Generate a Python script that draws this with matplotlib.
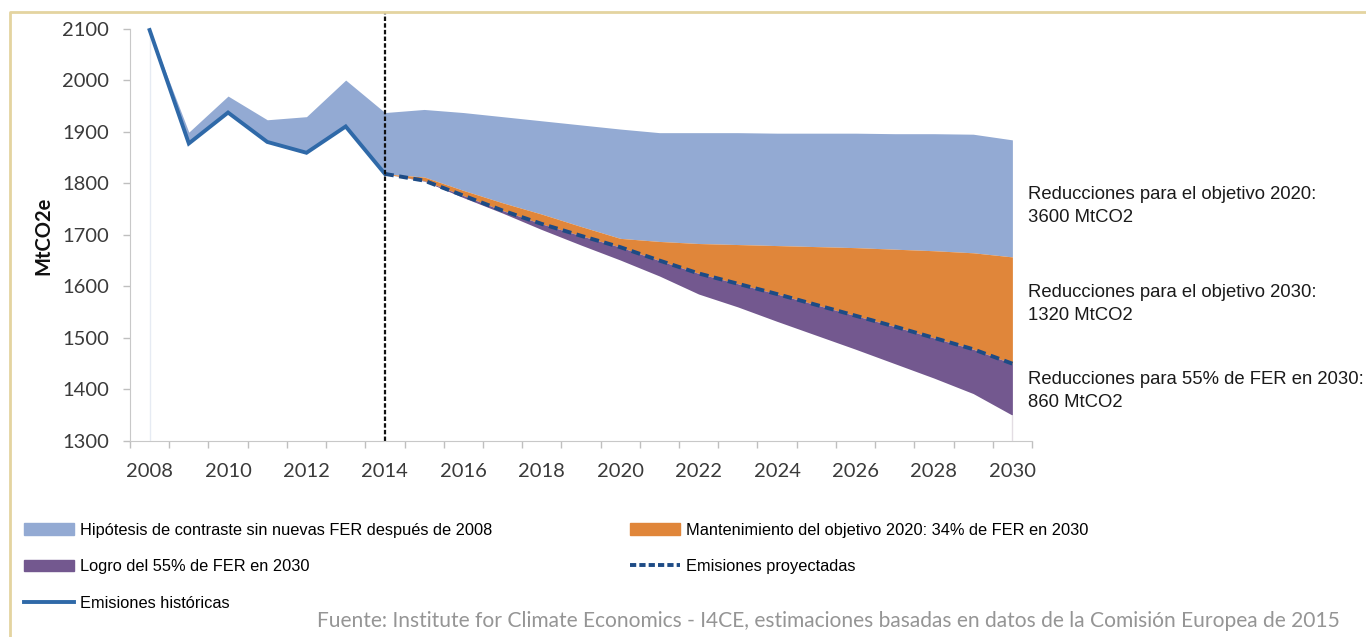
import numpy as np
import matplotlib.pyplot as plt
from matplotlib.lines import Line2D
from matplotlib.patches import Patch

# historic period
years_hist = np.arange(2008, 2015)
emis_hist = [2097, 1877, 1937, 1880, 1859, 1910, 1818]
base_hist = [2097, 1899, 1969, 1923, 1929, 2000, 1937]

# projections
years_proj = np.arange(2014, 2031)
base_proj = [1937, 1943, 1937, 1929, 1921, 1913, 1905, 1898, 1898, 1898,
             1897, 1897, 1897, 1896, 1896, 1895, 1884]
target_2020 = [1818, 1812, 1786, 1762, 1740, 1716, 1693, 1687, 1683, 1681,
               1679, 1677, 1675, 1672, 1669, 1665, 1657]
emis_proj = [1818, 1805, 1776, 1747, 1721, 1698, 1676, 1650, 1625, 1605,
             1585, 1564, 1543, 1522, 1500, 1478, 1450]
fer_55 = [1818, 1804, 1772, 1742, 1710, 1680, 1651, 1620, 1585, 1560,
          1532, 1505, 1478, 1450, 1422, 1392, 1350]

labels = ['Hipótesis de contraste sin nuevas FER después de 2008',
          'Logro del 55% de FER en 2030',
          'Emisiones históricas',
          'Mantenimiento del objetivo 2020: 34% de FER en 2030',
          'Emisiones proyectadas']
notes = ['Reducciones para el objetivo 2020:\n3600 MtCO2',
         'Reducciones para el objetivo 2030:\n1320 MtCO2',
         'Reducciones para 55% de FER en 2030:\n860 MtCO2']
note_y = [1755, 1565, 1397]
source = ('Fuente: Institute for Climate Economics - I4CE, estimaciones basadas '
          'en datos de la Comisión Europea de 2015')

c_blue = '#93aad3'
c_orange = '#e0863a'
c_purple = '#73588f'
c_hist = '#2f69a8'
c_proj = '#1d4b85'

sans = ['Liberation Sans', 'DejaVu Sans']

fig = plt.figure(figsize=(13.66, 6.37), dpi=100)
ax = fig.add_axes([130 / 1366, 1 - 441 / 637, 902 / 1366, 429 / 637])

years_all = np.arange(2008, 2031)
upper = list(base_hist) + base_proj[1:]
lower = list(emis_hist) + target_2020[1:]
ax.fill_between(years_all, lower, upper, color=c_blue, lw=0)
ax.fill_between(years_proj, emis_proj, target_2020, color=c_orange, lw=0)
ax.fill_between(years_proj, fer_55, emis_proj, color=c_purple, lw=0)
ax.vlines(2008, 1300, emis_hist[0], color='#e6ebf3', lw=1)
ax.vlines(2030, 1300, fer_55[-1], color='#e3dde3', lw=1)

ax.plot(years_hist, emis_hist, color=c_hist, lw=2.8, solid_joinstyle='miter')
ax.plot(years_proj, emis_proj, color=c_proj, lw=2.8, linestyle=(0, (2.3, 1.4)))
ax.axvline(2014, color='#111111', lw=1.6, linestyle=(0, (2, 1)))

ax.set_xlim(2007.5, 2030.5)
ax.set_ylim(1300, 2132)
ax.set_xticks(np.arange(2008, 2031, 2))
ax.set_xticks(np.arange(2007.5, 2031, 1), minor=True)
ax.set_yticks(np.arange(1300, 2101, 100))
ax.tick_params(axis='x', which='major', length=0, pad=16, labelsize=14.5, labelcolor='#3a3a3a')
ax.tick_params(axis='x', which='minor', length=5, width=1, color='#bfbfbf')
ax.tick_params(axis='y', length=5, width=1, color='#bfbfbf', pad=10, labelsize=14.5, labelcolor='#3a3a3a')
for lab in ax.get_xticklabels() + ax.get_yticklabels():
    lab.set_family('Lato')
for s in ['top', 'right']:
    ax.spines[s].set_visible(False)
ax.spines['left'].set_color('#c8c8c8')
ax.spines['bottom'].set_color('#c8c8c8')
ax.spines['left'].set_bounds(1300, 2100)

fig.text(43 / 1366, 1 - 236 / 637, 'MtCO2e', rotation=90, ha='center', va='center',
         fontsize=14.5, fontweight='bold', family='Lato', color='#111111')

for txt, yv in zip(notes, note_y):
    ax.annotate(txt, xy=(2030, yv), xycoords='data', xytext=(11, 0),
                textcoords='offset points', ha='left', va='center',
                fontsize=13.3, family=sans, color='#1a1a1a',
                linespacing=1.45, annotation_clip=False)

handles = [Patch(color=c_blue), Patch(color=c_purple),
           Line2D([], [], color=c_hist, lw=2.8),
           Patch(color=c_orange),
           Line2D([], [], color=c_proj, lw=2.8, linestyle=(0, (1.6, 0.8)))]
fig.legend(handles, labels, ncol=2, loc='upper left',
           bbox_to_anchor=(24 / 1366, 1 - 523 / 637), frameon=False,
           prop={'family': sans, 'size': 11.8}, handlelength=3.05,
           handleheight=0.73, handletextpad=0.37, labelspacing=1.3,
           columnspacing=8.4, borderaxespad=0, borderpad=0)

fig.text(1340 / 1366, 1 - 621 / 637, source, ha='right', va='center',
         fontsize=15.1, family='Lato', color='#959595')

fig.add_artist(Line2D([10 / 1366, 10 / 1366, 1], [0, 1 - 12 / 637, 1 - 12 / 637],
                      color='#e4d4a0', lw=2, transform=fig.transFigure))

fig.savefig('out.png', dpi=100)
